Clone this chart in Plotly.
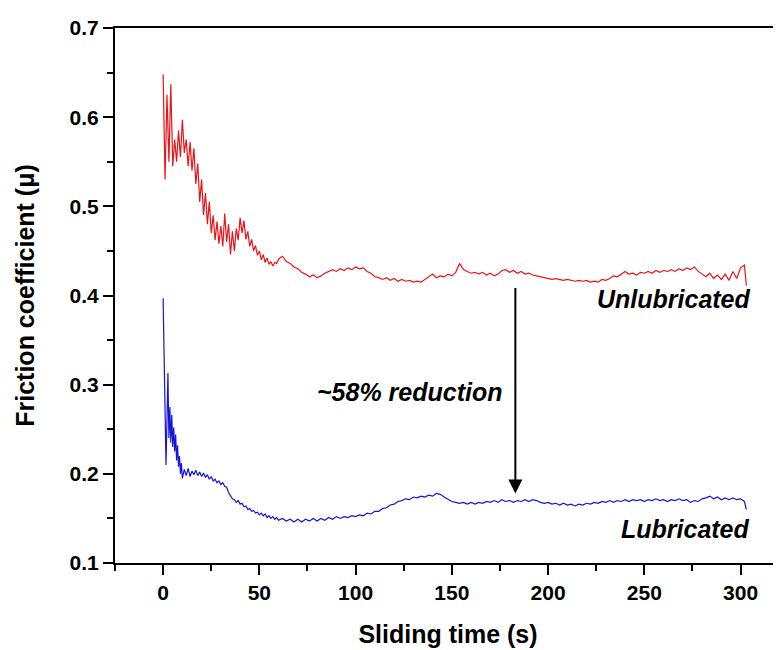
import plotly.graph_objects as go

# ---------------- data ----------------
# Unlubricated (red): 0-60 s every 1 s, 62-302 s every 2 s, final point at 303 s
red_early = [
    0.648, 0.530, 0.625, 0.550, 0.637, 0.545, 0.575, 0.550, 0.585, 0.555,
    0.597, 0.560, 0.575, 0.545, 0.572, 0.540, 0.565, 0.525, 0.548, 0.505,
    0.530, 0.490, 0.515, 0.480, 0.505, 0.470, 0.490, 0.462, 0.483, 0.458,
    0.478, 0.455, 0.492, 0.460, 0.480, 0.446, 0.472, 0.450, 0.475, 0.462,
    0.487, 0.470, 0.484, 0.463, 0.472, 0.455, 0.463, 0.450, 0.456, 0.445,
    0.450, 0.440, 0.446, 0.437, 0.442, 0.435, 0.438, 0.433, 0.437, 0.436,
    0.441,
]
red_late = [
    0.444, 0.438, 0.436, 0.432, 0.430, 0.426, 0.424, 0.421, 0.423, 0.420,
    0.422, 0.425, 0.427, 0.429, 0.427, 0.430, 0.428, 0.431, 0.429, 0.432,
    0.430, 0.431, 0.427, 0.425, 0.421, 0.420, 0.418, 0.420, 0.417, 0.419,
    0.416, 0.418, 0.416, 0.417, 0.415, 0.416, 0.415, 0.418, 0.420, 0.424,
    0.420, 0.422, 0.421, 0.424, 0.422, 0.426, 0.436, 0.429, 0.427, 0.425,
    0.426, 0.424, 0.426, 0.423, 0.425, 0.422, 0.424, 0.428, 0.429, 0.426,
    0.428, 0.425, 0.427, 0.424, 0.425, 0.423, 0.422, 0.421, 0.420, 0.419,
    0.418, 0.419, 0.418, 0.417, 0.418, 0.417, 0.416, 0.417, 0.416, 0.417,
    0.415, 0.416, 0.415, 0.418, 0.417, 0.419, 0.422, 0.421, 0.424, 0.427,
    0.424, 0.425, 0.423, 0.426, 0.425, 0.427, 0.425, 0.428, 0.426, 0.428,
    0.427, 0.429, 0.427, 0.430, 0.428, 0.431, 0.429, 0.432, 0.427, 0.424,
    0.421, 0.425, 0.419, 0.423, 0.418, 0.424, 0.417, 0.427, 0.419, 0.431,
    0.434,
]
red_end = [0.411]

# Lubricated (blue): 0-10 s every 0.5 s, 11-60 s every 1 s, 62-302 s every 2 s, final at 303 s
blue_start = [
    0.397, 0.346, 0.300, 0.210, 0.260, 0.313, 0.240, 0.275, 0.235, 0.266,
    0.230, 0.252, 0.225, 0.244, 0.215, 0.232, 0.208, 0.220, 0.200, 0.212,
    0.195,
]
blue_early = [
    0.205, 0.198, 0.206, 0.197, 0.203, 0.199, 0.204, 0.198, 0.202, 0.197,
    0.201, 0.196, 0.199, 0.194, 0.197, 0.192, 0.194, 0.190, 0.192, 0.188,
    0.190, 0.186, 0.185, 0.179, 0.176, 0.172, 0.171, 0.168, 0.170, 0.166,
    0.167, 0.163, 0.164, 0.160, 0.161, 0.158, 0.159, 0.156, 0.157, 0.154,
    0.156, 0.153, 0.155, 0.151, 0.153, 0.150, 0.152, 0.149, 0.151, 0.148,
]
blue_late = [
    0.150, 0.147, 0.149, 0.146, 0.149, 0.146, 0.149, 0.147, 0.150, 0.147,
    0.150, 0.148, 0.151, 0.149, 0.152, 0.150, 0.152, 0.151, 0.153, 0.152,
    0.154, 0.153, 0.156, 0.155, 0.158, 0.158, 0.161, 0.162, 0.165, 0.166,
    0.169, 0.170, 0.172, 0.171, 0.174, 0.173, 0.175, 0.174, 0.176, 0.175,
    0.178, 0.177, 0.174, 0.171, 0.169, 0.168, 0.167, 0.168, 0.166, 0.168,
    0.166, 0.168, 0.167, 0.169, 0.168, 0.170, 0.168, 0.171, 0.169, 0.170,
    0.168, 0.170, 0.169, 0.171, 0.169, 0.171, 0.170, 0.168, 0.167, 0.168,
    0.166, 0.167, 0.165, 0.167, 0.165, 0.166, 0.164, 0.166, 0.165, 0.167,
    0.166, 0.168, 0.167, 0.169, 0.168, 0.170, 0.168, 0.170, 0.169, 0.171,
    0.169, 0.171, 0.170, 0.171, 0.169, 0.171, 0.170, 0.172, 0.170, 0.171,
    0.169, 0.171, 0.170, 0.172, 0.170, 0.171, 0.168, 0.170, 0.169, 0.172,
    0.173, 0.175, 0.172, 0.174, 0.171, 0.173, 0.171, 0.173, 0.171, 0.172,
    0.169,
]
blue_end = [0.160]

x_tick_vals = [0, 50, 100, 150, 200, 250, 300]
y_tick_vals = [0.1, 0.2, 0.3, 0.4, 0.5, 0.6, 0.7]
label_unlub = "Unlubricated"
label_lub = "Lubricated"
label_reduction = "~58% reduction"


# sampling times for each recorded segment
def times(start, step, n):
    return [start + step * i for i in range(n)]


red_t = times(0, 1, len(red_early)) + times(62, 2, len(red_late)) + [303]
red_y = red_early + red_late + red_end
blue_t = (times(0, 0.5, len(blue_start)) + times(11, 1, len(blue_early))
          + times(62, 2, len(blue_late)) + [303])
blue_y = blue_start + blue_early + blue_late + blue_end

FONT = "Liberation Sans, Arial, Helvetica, sans-serif"

fig = go.Figure()
fig.add_trace(go.Scatter(x=red_t, y=red_y, mode="lines",
                         line=dict(color="#e8151b", width=1.2), name=label_unlub,
                         showlegend=False))
fig.add_trace(go.Scatter(x=blue_t, y=blue_y, mode="lines",
                         line=dict(color="#1515d8", width=1.2), name=label_lub,
                         showlegend=False))

fig.add_annotation(x=306.3, y=0.396, text=f"<b><i>{label_unlub}</i></b>",
                   showarrow=False, xanchor="right", yanchor="middle",
                   font=dict(family=FONT, size=25, color="black"))
fig.add_annotation(x=305.8, y=0.1376, text=f"<b><i>{label_lub}</i></b>",
                   showarrow=False, xanchor="right", yanchor="middle",
                   font=dict(family=FONT, size=25, color="black"))
fig.add_annotation(x=128.2, y=0.2923, text=f"<b><i>{label_reduction}</i></b>",
                   showarrow=False, xanchor="center", yanchor="middle",
                   font=dict(family=FONT, size=25, color="black"))
fig.add_annotation(x=183, y=0.178, ax=183, ay=0.41, axref="x", ayref="y",
                   text="", showarrow=True, arrowhead=2, arrowsize=1.4,
                   arrowwidth=2, arrowcolor="black", standoff=0, startstandoff=0)

fig.update_layout(
    width=781, height=650,
    margin=dict(l=107, r=8, t=12, b=95),
    plot_bgcolor="white", paper_bgcolor="white",
    font=dict(family=FONT, color="black"),
)
fig.update_xaxes(
    range=[-25, 321], tickvals=x_tick_vals,
    showline=True, linecolor="black", linewidth=2, mirror=True,
    ticks="outside", ticklen=10, tickwidth=2, tickcolor="black",
    minor=dict(dtick=25, tick0=0, ticks="outside", ticklen=6, tickwidth=2,
               tickcolor="black"),
    showgrid=False, zeroline=False,
    tickfont=dict(family=FONT, size=21, color="black", weight="bold"),
    title=dict(text="<b>Sliding time (s)</b>", standoff=22,
               font=dict(family=FONT, size=25, color="black")),
)
fig.update_yaxes(
    range=[0.1, 0.7], tickvals=y_tick_vals, tickformat=".1f",
    showline=True, linecolor="black", linewidth=2, mirror=False,
    ticks="outside", ticklen=10, tickwidth=2, tickcolor="black",
    minor=dict(dtick=0.05, tick0=0.1, ticks="outside", ticklen=6, tickwidth=2,
               tickcolor="black"),
    showgrid=False, zeroline=False,
    tickfont=dict(family=FONT, size=21, color="black", weight="bold"),
    title=dict(text="<b>Friction coefficient (μ)</b>", standoff=28,
               font=dict(family=FONT, size=25, color="black")),
)

fig.write_html("out.html")
